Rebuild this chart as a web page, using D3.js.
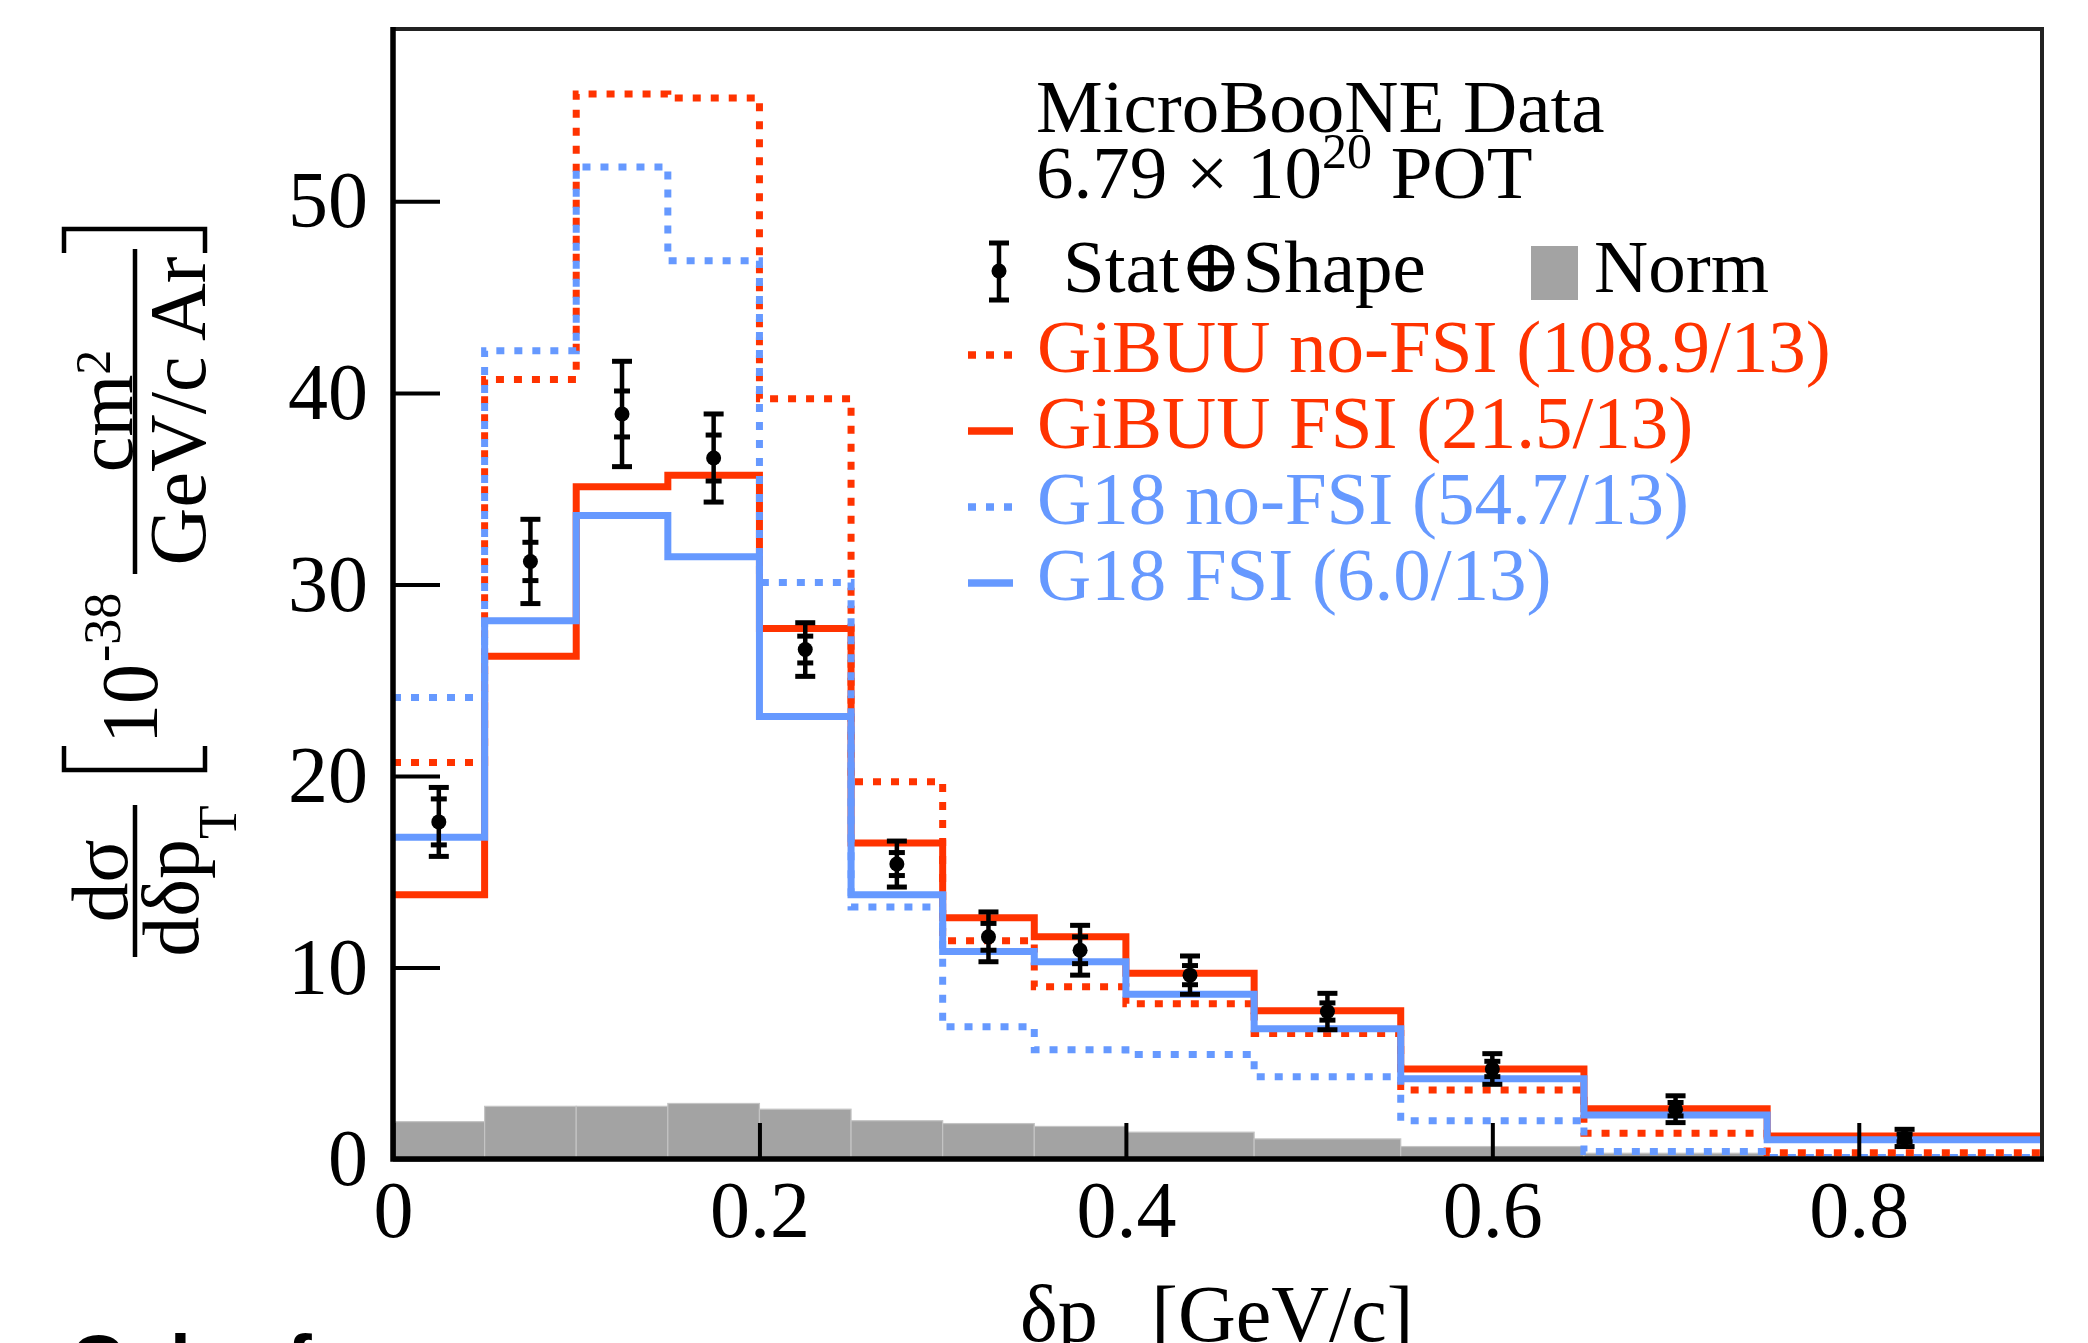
<!DOCTYPE html>
<html>
<head>
<meta charset="utf-8">
<script src="https://cdn.jsdelivr.net/npm/d3@7"></script>
<style>
  body { margin: 0; background: #fff; }
  svg { display: block; }
</style>
</head>
<body>
<div id="viz"></div>
<script>
const width = 2088;
const height = 1343;
const margin = { top: 29, right: 46, bottom: 184, left: 393 };
const plotW = width - margin.left - margin.right;
const plotH = height - margin.top - margin.bottom;

// bin edges of delta pT [GeV/c]
const binEdges = [0, 0.05, 0.1, 0.15, 0.2, 0.25, 0.3, 0.35, 0.4, 0.47, 0.55, 0.65, 0.75, 0.9];

// MicroBooNE data points
const dataX = [0.025, 0.075, 0.125, 0.175, 0.225, 0.275, 0.325, 0.375, 0.435, 0.51, 0.6, 0.7, 0.825];
const dataY = [17.6, 31.2, 38.9, 36.6, 26.6, 15.4, 11.6, 10.9, 9.6, 7.7, 4.7, 2.6, 1.1];
const errTotal = [1.8, 2.2, 2.75, 2.3, 1.4, 1.2, 1.3, 1.3, 1.0, 0.95, 0.8, 0.7, 0.45];
const errStat = [1.2, 1.0, 1.2, 1.2, 0.7, 0.6, 0.7, 0.7, 0.5, 0.45, 0.4, 0.35, 0.2];

// normalisation uncertainty band
const normErr = [1.95, 2.75, 2.75, 2.9, 2.6, 2.0, 1.85, 1.7, 1.4, 1.05, 0.65, 0.3, 0.15];

// generator predictions
const gibuuNoFSI = [20.7, 40.7, 55.6, 55.4, 39.7, 19.7, 11.4, 9.0, 8.1, 6.55, 3.6, 1.35, 0.32];
const gibuuFSI = [13.8, 26.25, 35.1, 35.7, 27.7, 16.5, 12.6, 11.6, 9.7, 7.74, 4.7, 2.62, 1.2];
const g18NoFSI = [24.1, 42.2, 51.8, 46.9, 30.1, 13.16, 6.9, 5.7, 5.45, 4.3, 2.0, 0.39, 0.08];
const g18FSI = [16.8, 28.1, 33.6, 31.45, 23.1, 13.8, 10.84, 10.3, 8.6, 6.8, 4.19, 2.3, 1.0];

const xTicks = [0, 0.2, 0.4, 0.6, 0.8];
const yTicks = [0, 10, 20, 30, 40, 50];

const legendLabels = ['GiBUU no-FSI (108.9/13)', 'GiBUU FSI (21.5/13)', 'G18 no-FSI (54.7/13)', 'G18 FSI (6.0/13)'];

const red = '#ff3300';
const blue = '#6699ff';
const grey = '#a3a3a3';
const serif = '"Liberation Serif", "DejaVu Serif", serif';

const series = [
  { vals: gibuuNoFSI, color: red, dash: '8,10' },
  { vals: gibuuFSI, color: red, dash: null },
  { vals: g18NoFSI, color: blue, dash: '8,10' },
  { vals: g18FSI, color: blue, dash: null }
];

const svg = d3.select('#viz').append('svg')
  .attr('width', width)
  .attr('height', height)
  .style('background', '#fff');

const chart = svg.append('g')
  .attr('transform', `translate(${margin.left}, ${margin.top})`);

const x = d3.scaleLinear().domain([0, 0.9]).range([0, plotW]);
const y = d3.scaleLinear().domain([0, 59]).range([plotH, 0]);

// norm band
chart.selectAll('.norm')
  .data(normErr)
  .enter()
  .append('rect')
    .attr('class', 'norm')
    .attr('x', (d, i) => x(binEdges[i]))
    .attr('y', d => y(d))
    .attr('width', (d, i) => x(binEdges[i + 1]) - x(binEdges[i]))
    .attr('height', d => plotH - y(d))
    .attr('fill', grey)
    .attr('stroke', '#c4c4c4')
    .attr('stroke-width', 1.2);

// step histograms
function stepPoints(vals) {
  const pts = [];
  vals.forEach((v, i) => {
    pts.push([binEdges[i], v]);
    pts.push([binEdges[i + 1], v]);
  });
  return pts;
}

const stepLine = d3.line()
  .x(d => x(d[0]))
  .y(d => y(d[1]));

chart.selectAll('.hist')
  .data(series)
  .enter()
  .append('path')
    .attr('class', 'hist')
    .attr('d', d => stepLine(stepPoints(d.vals)))
    .attr('fill', 'none')
    .attr('stroke', d => d.color)
    .attr('stroke-width', 7)
    .attr('stroke-dasharray', d => d.dash);

// data with error bars
const points = chart.selectAll('.pt')
  .data(dataY)
  .enter()
  .append('g')
    .attr('class', 'pt')
    .attr('transform', (d, i) => `translate(${x(dataX[i])}, 0)`);

points.append('line')
  .attr('y1', (d, i) => y(d - errTotal[i]))
  .attr('y2', (d, i) => y(d + errTotal[i]))
  .attr('stroke', '#000')
  .attr('stroke-width', 4.5);

[errTotal, errStat].forEach((errs, k) => {
  [-1, 1].forEach(sign => {
    points.append('line')
      .attr('x1', k === 0 ? -10 : -8)
      .attr('x2', k === 0 ? 10 : 8)
      .attr('y1', (d, i) => y(d + sign * errs[i]))
      .attr('y2', (d, i) => y(d + sign * errs[i]))
      .attr('stroke', '#000')
      .attr('stroke-width', 5);
  });
});

points.append('circle')
  .attr('cy', d => y(d))
  .attr('r', 7.5)
  .attr('fill', '#000');

// axes
const xaxis = chart.append('g')
  .attr('transform', `translate(0, ${plotH})`)
  .call(d3.axisBottom(x).tickValues(xTicks).tickSize(-36).tickPadding(21).tickFormat(d => String(d)));

const yaxis = chart.append('g')
  .call(d3.axisLeft(y).tickValues(yTicks).tickSize(-47).tickPadding(25).tickFormat(d => String(d)));

[xaxis, yaxis].forEach(ax => {
  ax.select('.domain').remove();
  ax.selectAll('line').attr('stroke', '#000').attr('stroke-width', 4);
  ax.selectAll('text')
    .attr('font-family', serif)
    .attr('font-size', 80)
    .attr('fill', '#000');
});

// frame
chart.append('path')
  .attr('d', `M0,0 H${plotW} V${plotH}`)
  .attr('fill', 'none')
  .attr('stroke', '#222')
  .attr('stroke-width', 4);

chart.append('path')
  .attr('d', `M0,-2 V${plotH} H${plotW + 2}`)
  .attr('fill', 'none')
  .attr('stroke', '#000')
  .attr('stroke-width', 5.5);

// x title (subscript falls below the page edge)
const xtitle = svg.append('text')
  .attr('x', 1020)
  .attr('y', 1341)
  .attr('font-family', serif)
  .attr('font-size', 80)
  .attr('fill', '#000');
xtitle.append('tspan').text('δp');
xtitle.append('tspan').attr('font-size', 55).attr('dy', 48).text('T');
xtitle.append('tspan').attr('dy', -48).text(' [GeV/c]');

// y title, drawn rotated; local (x, y) = (-screenY, screenX)
const ytitle = svg.append('g')
  .attr('transform', 'rotate(-90)')
  .attr('font-family', serif)
  .attr('font-size', 80)
  .attr('fill', '#000');

function rtext(sx, sy, anchor) {
  return ytitle.append('text')
    .attr('x', -sy)
    .attr('y', sx)
    .attr('text-anchor', anchor);
}

rtext(127, 881, 'middle').text('dσ');
const den = rtext(198, 881, 'middle');
den.append('tspan').text('dδp');
den.append('tspan').attr('font-size', 55).attr('dy', 38).text('T');

rtext(157, 744, 'start').text('10');
rtext(120, 662, 'start').attr('font-size', 52).text('-38');

const num2 = rtext(132, 411, 'middle');
num2.append('tspan').text('cm');
num2.append('tspan').attr('font-size', 50).attr('dy', -22).text('2');
rtext(205, 411, 'middle').text('GeV/c Ar');

const ypaths = [
  'M135,805 V957',
  'M135,249 V574',
  'M64,746 V770 H205 V746',
  'M64,253 V229 H205 V253'
];
svg.selectAll('.ybar')
  .data(ypaths)
  .enter()
  .append('path')
    .attr('class', 'ybar')
    .attr('d', d => d)
    .attr('fill', 'none')
    .attr('stroke', '#000')
    .attr('stroke-width', 4.5);

// legend header
svg.append('text')
  .attr('x', 1036).attr('y', 132)
  .attr('font-family', serif).attr('font-size', 75)
  .text('MicroBooNE Data');

const pot = svg.append('text')
  .attr('x', 1036).attr('y', 198)
  .attr('font-family', serif).attr('font-size', 75);
pot.append('tspan').text('6.79 × 10');
pot.append('tspan').attr('font-size', 50).attr('dy', -30).text('20');
pot.append('tspan').attr('dy', 30).text(' POT');

// legend: data marker
const lmark = svg.append('g').attr('transform', 'translate(999, 0)');
lmark.append('line').attr('y1', 243).attr('y2', 300).attr('stroke', '#000').attr('stroke-width', 4.5);
[243, 300].forEach(yy => {
  lmark.append('line').attr('x1', -10).attr('x2', 10).attr('y1', yy).attr('y2', yy)
    .attr('stroke', '#000').attr('stroke-width', 5);
});
lmark.append('circle').attr('cy', 271).attr('r', 7.5).attr('fill', '#000');

svg.append('text')
  .attr('x', 1063).attr('y', 292)
  .attr('font-family', serif).attr('font-size', 75)
  .text('Stat⊕Shape');

svg.append('rect')
  .attr('x', 1531).attr('y', 246).attr('width', 47).attr('height', 54)
  .attr('fill', grey);

svg.append('text')
  .attr('x', 1594).attr('y', 292)
  .attr('font-family', serif).attr('font-size', 75)
  .text('Norm');

// legend: model lines
const legend = svg.selectAll('.legend')
  .data(series)
  .enter()
  .append('g')
    .attr('class', 'legend')
    .attr('transform', (d, i) => `translate(0, ${i * 76})`);

legend.append('line')
  .attr('x1', 968).attr('x2', 1013)
  .attr('y1', 355).attr('y2', 355)
  .attr('stroke', d => d.color)
  .attr('stroke-width', 7.5)
  .attr('stroke-dasharray', d => d.dash);

legend.append('text')
  .attr('x', 1037).attr('y', 372)
  .attr('font-family', serif).attr('font-size', 75)
  .attr('fill', d => d.color)
  .text((d, i) => legendLabels[i]);

// page text cut at the bottom edge
svg.append('text')
  .attr('x', 70).attr('y', 1387)
  .attr('font-family', '"Liberation Sans", Arial, sans-serif')
  .attr('font-weight', 700)
  .attr('font-size', 75)
  .text('Color for');
</script>
</body>
</html>
